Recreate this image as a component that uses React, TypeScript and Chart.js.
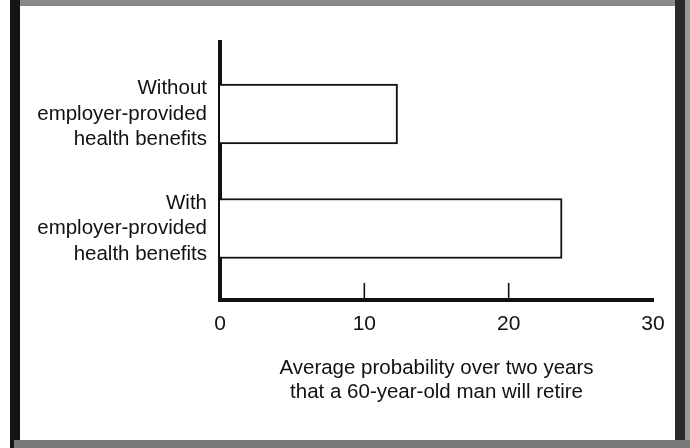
import React, { useEffect, useRef } from "react";
import { Chart, registerables } from "chart.js";

Chart.register(...registerables);

const categories: string[][] = [
  ["Without", "employer-provided", "health benefits"],
  ["With", "employer-provided", "health benefits"],
];
const values: number[] = [12.3, 23.7];
const xTickValues: number[] = [0, 10, 20, 30];
const xTitleLines: string[] = [
  "Average probability over two years",
  "that a 60-year-old man will retire",
];

const Y_MIN = -0.629;
const Y_MAX = 1.624;

const FONT = "'Liberation Sans', Arial, Helvetica, sans-serif";
const INK = "#111111";

const innerTicks = {
  id: "innerTicks",
  afterDraw(chart: any) {
    const xs = chart.scales.x;
    const ctx = chart.ctx;
    ctx.save();
    ctx.strokeStyle = INK;
    ctx.lineWidth = 1.6;
    xs.ticks.forEach((t: any, i: number) => {
      if (i === 0 || i === xs.ticks.length - 1) return;
      const px = xs.getPixelForValue(t.value);
      ctx.beginPath();
      ctx.moveTo(px, xs.top);
      ctx.lineTo(px, xs.top - 17);
      ctx.stroke();
    });
    ctx.restore();
  },
};

export default function App() {
  const ref = useRef<HTMLCanvasElement | null>(null);

  useEffect(() => {
    document.body.style.margin = "0";
    if (!ref.current) return;
    const chart = new Chart(ref.current, {
      type: "bar",
      data: {
        datasets: [
          {
            data: values.map((v, i) => ({ x: v, y: i })) as any,
            backgroundColor: "#ffffff",
            borderColor: INK,
            borderWidth: 2,
            barThickness: 60,
          },
        ],
      },
      options: {
        indexAxis: "y",
        animation: false,
        responsive: false,
        events: [],
        layout: { padding: { left: 0, right: 37, top: 42, bottom: 0 } },
        plugins: {
          legend: { display: false },
          tooltip: { enabled: false },
        },
        scales: {
          x: {
            type: "linear",
            min: 0,
            max: 30,
            afterBuildTicks: (scale: any) => {
              scale.ticks = xTickValues.map((v) => ({ value: v }));
            },
            afterFit: (scale: any) => {
              scale.height = 148;
              scale.paddingLeft = 0;
              scale.paddingRight = 0;
            },
            grid: { display: false, drawTicks: false },
            border: { display: true, color: INK, width: 4 },
            ticks: {
              color: INK,
              padding: 12,
              font: { family: FONT, size: 21 },
              maxRotation: 0,
              autoSkip: false,
            },
            title: {
              display: true,
              text: xTitleLines,
              color: INK,
              font: { family: FONT, size: 20.5, lineHeight: 1.17 },
              padding: { top: 0, bottom: 44 },
            },
          },
          y: {
            type: "linear",
            reverse: true,
            offset: false,
            bounds: "data",
            grace: 0,
            min: Y_MIN,
            max: Y_MAX,
            afterDataLimits: (scale: any) => {
              scale.min = Y_MIN;
              scale.max = Y_MAX;
            },
            afterBuildTicks: (scale: any) => {
              scale.ticks = categories.map((_, i) => ({ value: i }));
              scale.min = Y_MIN;
              scale.max = Y_MAX;
            },
            afterFit: (scale: any) => {
              scale.width = 220;
              scale.paddingTop = 0;
              scale.paddingBottom = 0;
            },
            grid: { display: false, drawTicks: false, offset: false },
            border: { display: true, color: INK, width: 4 },
            ticks: {
              color: INK,
              padding: 13,
              autoSkip: false,
              font: { family: FONT, size: 20.5, lineHeight: 1.24 },
              callback: (v: any) => categories[Math.round(Number(v))] ?? "",
            },
          },
        },
      },
      plugins: [innerTicks],
    });
    return () => chart.destroy();
  }, []);

  return (
    <div style={{ position: "relative", width: 690, height: 448, background: "#ffffff", overflow: "hidden" }}>
      <div style={{ position: "absolute", left: 14, top: 0, width: 676, height: 6, background: "#8a8a8a" }} />
      <div style={{ position: "absolute", left: 10, top: 0, width: 10, height: 448, background: "#151515" }} />
      <div style={{ position: "absolute", left: 675, top: 0, width: 10, height: 448, background: "#2a2a2a" }} />
      <div style={{ position: "absolute", left: 685, top: 0, width: 5, height: 448, background: "#9a9a9a" }} />
      <div style={{ position: "absolute", left: 14, top: 440, width: 676, height: 8, background: "#7a7a7a" }} />
      <canvas ref={ref} width={690} height={448} style={{ position: "absolute", left: 0, top: 0, width: 690, height: 448 }} />
    </div>
  );
}
